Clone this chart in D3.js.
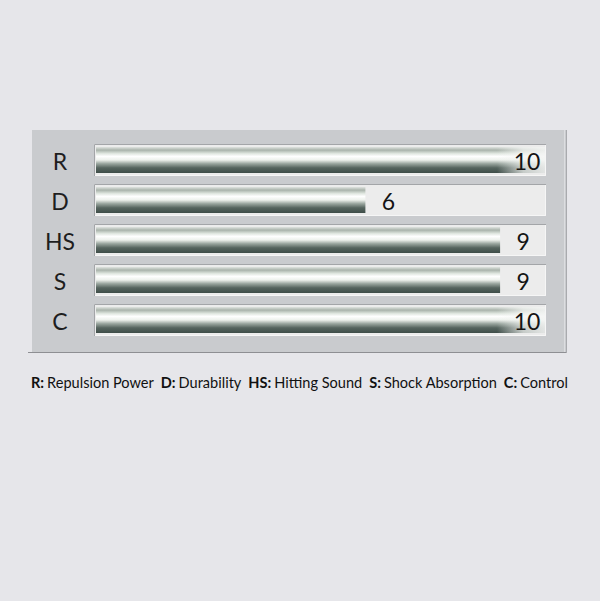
<!DOCTYPE html>
<html>
<head>
<meta charset="utf-8">
<script src="https://cdn.jsdelivr.net/npm/d3@7"></script>
<style>
  html, body { margin: 0; padding: 0; background: #e6e6ea; }
  svg { display: block; }
</style>
</head>
<body>
<svg id="chart" width="600" height="601"></svg>
<script>
// chart data
const keys = ["R", "D", "HS", "S", "C"];
const values = [10, 6, 9, 9, 10];
const legendKeys = ["R:", "D:", "HS:", "S:", "C:"];
const legendNames = ["Repulsion Power", "Durability", "Hitting Sound", "Shock Absorption", "Control"];

const svg = d3.select("#chart");
const defs = svg.append("defs");

// vertical metallic gradient for the bars
const barGrad = defs.append("linearGradient")
    .attr("id", "barGrad")
    .attr("x1", 0).attr("x2", 0).attr("y1", 0).attr("y2", 1);
[
  ["0%", "#dfe3df"],
  ["12%", "#a9b3ab"],
  ["25%", "#dfe6df"],
  ["36%", "#ffffff"],
  ["50%", "#edf1ec"],
  ["64%", "#9aa69f"],
  ["80%", "#56655f"],
  ["100%", "#3e4d48"]
].forEach(([o, c]) => barGrad.append("stop").attr("offset", o).attr("stop-color", c));

// horizontal glow behind labels that sit on top of a bar
const glow = defs.append("linearGradient")
    .attr("id", "glow")
    .attr("x1", 0).attr("x2", 1).attr("y1", 0).attr("y2", 0);
glow.append("stop").attr("offset", "0%").attr("stop-color", "#f2f4f2").attr("stop-opacity", 0);
glow.append("stop").attr("offset", "55%").attr("stop-color", "#f2f4f2").attr("stop-opacity", 0.75);
glow.append("stop").attr("offset", "100%").attr("stop-color", "#f4f5f4").attr("stop-opacity", 0.9);

// panel
const panel = {x: 32, y: 130, w: 534, h: 222};
svg.append("rect")
    .attr("x", panel.x).attr("y", panel.y)
    .attr("width", panel.w).attr("height", panel.h)
    .attr("fill", "#c9cbce");
svg.append("line") // bottom shadow
    .attr("x1", 28).attr("x2", panel.x + panel.w)
    .attr("y1", panel.y + panel.h + 0.5).attr("y2", panel.y + panel.h + 0.5)
    .attr("stroke", "#8e8f93").attr("stroke-width", 1);
svg.append("line") // right edge
    .attr("x1", panel.x + panel.w - 1.5).attr("x2", panel.x + panel.w - 1.5)
    .attr("y1", panel.y).attr("y2", panel.y + panel.h)
    .attr("stroke", "#dcdde0").attr("stroke-width", 1);
svg.append("line")
    .attr("x1", panel.x + panel.w + 0.5).attr("x2", panel.x + panel.w + 0.5)
    .attr("y1", panel.y).attr("y2", panel.y + panel.h + 1)
    .attr("stroke", "#a9aaae").attr("stroke-width", 1);

// scales
const y = d3.scaleBand()
    .domain(keys)
    .range([140, 340])
    .paddingInner(0.2)
    .paddingOuter(0.1);
const x = d3.scaleLinear()
    .domain([0, 10])
    .range([96, 545]);

const trackX = 94, trackW = 452;

const rows = svg.append("g")
    .selectAll("g")
    .data(keys.map((k, i) => ({key: k, value: values[i]})))
    .enter()
    .append("g")
    .attr("transform", d => `translate(0, ${y(d.key)})`);

// track boxes
rows.append("rect")
    .attr("x", trackX).attr("y", 0)
    .attr("width", trackW).attr("height", y.bandwidth())
    .attr("fill", "#ececec");
rows.append("path") // top/left inner border
    .attr("d", `M${trackX + 0.5},${y.bandwidth()} V0.5 H${trackX + trackW}`)
    .attr("fill", "none")
    .attr("stroke", "#a3a5a8");
rows.append("path") // bottom/right light border
    .attr("d", `M${trackX + 1},${y.bandwidth() - 0.5} H${trackX + trackW - 0.5} V1`)
    .attr("fill", "none")
    .attr("stroke", "#f6f6f6");

// bars
rows.append("rect")
    .attr("x", x(0)).attr("y", 3)
    .attr("width", d => x(d.value) - x(0))
    .attr("height", y.bandwidth() - 6)
    .attr("fill", "url(#barGrad)");

// value labels, pushed inside when the bar is full
const labelX = d => Math.min(x(d.value) + 23, 527);
rows.filter(d => labelX(d) - 20 < x(d.value))
    .append("rect")
    .attr("x", d => labelX(d) - 30)
    .attr("y", 3)
    .attr("width", d => x(d.value) - labelX(d) + 30)
    .attr("height", y.bandwidth() - 6)
    .attr("fill", "url(#glow)");

rows.append("text")
    .attr("x", labelX)
    .attr("y", y.bandwidth() / 2 + 1)
    .attr("text-anchor", "middle")
    .attr("dominant-baseline", "central")
    .attr("font-family", "Lato, 'Open Sans', sans-serif")
    .attr("font-size", 23)
    .attr("fill", "#141414")
    .text(d => d.value);

// category labels
rows.append("text")
    .attr("x", 60)
    .attr("y", y.bandwidth() / 2 + 1)
    .attr("text-anchor", "middle")
    .attr("dominant-baseline", "central")
    .attr("font-family", "Lato, 'Open Sans', sans-serif")
    .attr("font-size", 23)
    .attr("fill", "#1e1e1e")
    .text(d => d.key);

// legend line
const legend = svg.append("text")
    .attr("x", 31)
    .attr("y", 388)
    .attr("font-family", "Lato, 'Open Sans', sans-serif")
    .attr("font-size", 13)
    .attr("fill", "#111");
legendKeys.forEach((k, i) => {
    legend.append("tspan")
        .attr("dx", i ? 7 : 0)
        .attr("font-weight", "bold")
        .text(k);
    legend.append("tspan")
        .attr("dx", 3)
        .text(legendNames[i]);
});
// fit the legend to the reference width (31 .. 568)
const want = 537;
let fs = 13;
for (let k = 0; k < 4; k++) {
    const w = legend.node().getBBox().width;
    fs = fs * want / w;
    legend.attr("font-size", fs);
}
</script>
</body>
</html>
